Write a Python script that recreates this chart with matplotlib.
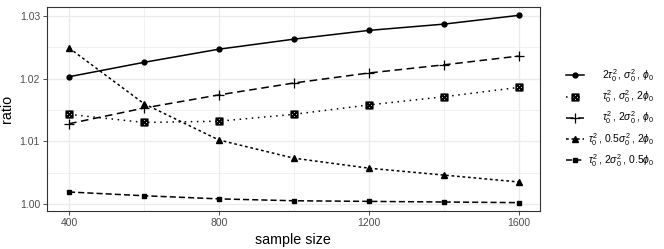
import numpy as np
import matplotlib
matplotlib.use("Agg")
from matplotlib import pyplot as plt

plt.rcParams['font.family'] = ['Liberation Sans', 'DejaVu Sans']
plt.rcParams['mathtext.fontset'] = 'custom'
plt.rcParams['mathtext.rm'] = 'Liberation Sans'
plt.rcParams['mathtext.it'] = 'Liberation Sans:italic'

# data
sample_size = [400, 600, 800, 1000, 1200, 1400, 1600]
ratio_a = [1.0203, 1.0226, 1.0247, 1.0263, 1.0277, 1.0287, 1.0301]
ratio_b = [1.0143, 1.0130, 1.0132, 1.0143, 1.0158, 1.0171, 1.0186]
ratio_c = [1.0128, 1.0153, 1.0174, 1.0193, 1.0209, 1.0222, 1.0236]
ratio_d = [1.0249, 1.0160, 1.0102, 1.0073, 1.0057, 1.0046, 1.0035]
ratio_e = [1.0019, 1.0013, 1.0008, 1.0005, 1.0004, 1.0003, 1.0002]

labels = [r"$2\tau_0^2\,,\,\sigma_0^2\,,\,\phi_0$",
          r"$\tau_0^2\,,\,\sigma_0^2\,,\,2\phi_0$",
          r"$\tau_0^2\,,\,2\sigma_0^2\,,\,\phi_0$",
          r"$\tau_0^2\,,\,0.5\sigma_0^2\,,\,2\phi_0$",
          r"$\tau_0^2\,,\,2\sigma_0^2\,,\,0.5\phi_0$"]

fig = plt.figure(figsize=(6.64, 2.49), dpi=100)
ax = fig.add_axes([0.0708, 0.153, 0.742, 0.819])

lw = 1.1
ax.plot(sample_size, ratio_a, color='black', lw=lw, ls='-', marker='o', ms=3.5, label=labels[0])
ax.plot(sample_size, ratio_b, color='black', lw=lw, ls=(0, (1, 3)), marker=r'$\boxtimes$', ms=5, mew=0.9, label=labels[1])
ax.plot(sample_size, ratio_c, color='black', lw=lw, ls=(0, (5, 3)), marker='+', ms=7, mew=0.9, label=labels[2])
ax.plot(sample_size, ratio_d, color='black', lw=lw, ls=(0, (1.8, 1.8)), marker='^', ms=4, label=labels[3])
ax.plot(sample_size, ratio_e, color='black', lw=lw, ls=(0, (4, 2)), marker='s', ms=3.5, label=labels[4])

ax.set_xlim(341.3, 1656)
ax.set_ylim(0.99888, 1.03144)
ax.set_xticks([400, 800, 1200, 1600])
ax.set_xticks([600, 1000, 1400], minor=True)
ax.set_yticks([1.00, 1.01, 1.02, 1.03])
ax.set_yticklabels(["1.00", "1.01", "1.02", "1.03"])
ax.set_yticks([1.005, 1.015, 1.025], minor=True)
ax.grid(which='major', color='#ebebeb', lw=1.0)
ax.grid(which='minor', color='#ebebeb', lw=0.5)
ax.set_axisbelow(True)
for s in ax.spines.values():
    s.set_color('#333333')
    s.set_linewidth(0.8)
ax.tick_params(which='major', length=3, width=0.6, color='#333333', labelsize=7.5, labelcolor='#4d4d4d', pad=2)
ax.tick_params(which='minor', length=0)
ax.set_xlabel("sample size", fontsize=10.3, labelpad=4)
ax.set_ylabel("ratio", fontsize=10.3, labelpad=4)

leg = fig.legend(loc='center left', bbox_to_anchor=(0.838, 0.526), frameon=False,
                 fontsize=7.5, handlelength=1.7, handletextpad=0.8, labelspacing=0.42)

# right align the legend labels like in ggplot: hide them and redraw as figure text
fig.canvas.draw()
renderer = fig.canvas.get_renderer()
right = 654 / 664
for t in leg.get_texts():
    bb = t.get_window_extent(renderer)
    ymid = (bb.y0 + bb.y1) / 2 / fig.bbox.height
    fig.text(right, ymid, t.get_text(), ha='right', va='center', fontsize=7.5)
    t.set_visible(False)

fig.savefig("out.png", dpi=100)
